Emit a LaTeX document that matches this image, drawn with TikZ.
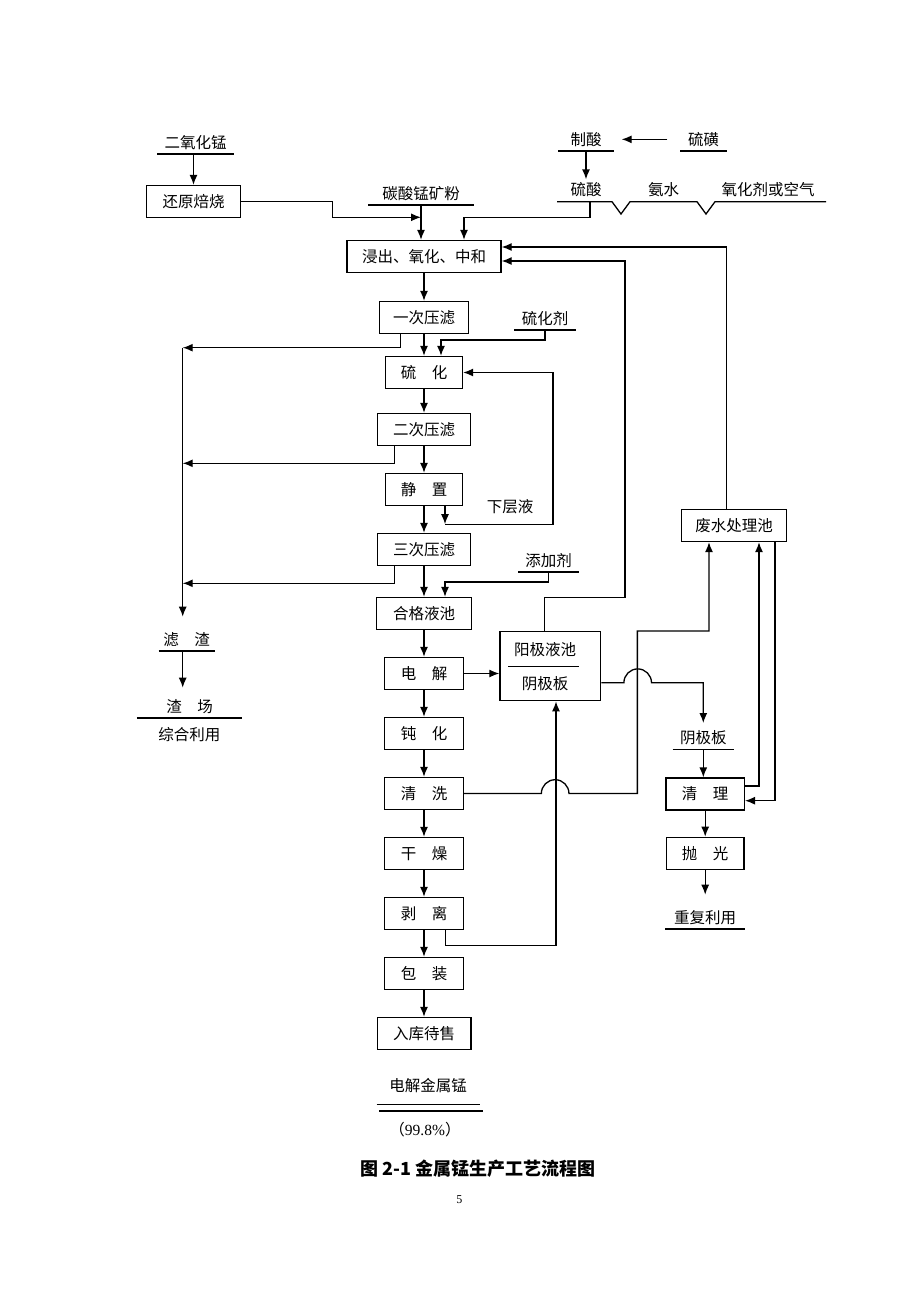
\documentclass[tikz,border=0pt]{standalone}
\usepackage{fontspec}
\setmainfont{Liberation Serif}
\newfontfamily\cjk{Noto Sans CJK SC}
\usetikzlibrary{arrows.meta,positioning}

\begin{document}
\begin{tikzpicture}[x=1pt,y=-1pt,line width=1.3pt,>={Latex[length=10pt,width=8pt]},
        node distance=60pt,on grid,
        every node/.style={font=\fontsize{15.5}{18}\selectfont\cjk,text height=12.5pt,text depth=0.7pt,inner sep=0pt},
        proc/.style={draw,minimum height=32pt,minimum width=#1}, proc/.default=78.5pt,
        lbl/.style={anchor=south,minimum width=#1,inner ysep=4.4pt}]
        \useasboundingbox (0,0) rectangle (920,1302);

        % main column
        \node[proc=154pt]  (jc)   at (424,256.5)       {浸出、氧化、中和};
        \node[proc=88.6pt] (yc)   [below=61pt of jc]   {一次压滤};
        \node[proc=77pt]   (lhua) [below=55pt of yc]   {硫\quad 化};
        \node[proc=93.6pt] (ec)   [below=57pt of lhua] {二次压滤};
        \node[proc=77pt]   (jz)   [below=of ec]        {静\quad 置};
        \node[proc=93.6pt] (sc)   [below=of jz]        {三次压滤};
        \node[proc=95pt]   (hg)   [below=64pt of sc]   {合格液池};
        \node[proc]        (dj)   [below=of hg]        {电\quad 解};
        \node[proc]        (dh)   [below=of dj]        {钝\quad 化};
        \node[proc]        (qx)   [below=of dh]        {清\quad 洗};
        \node[proc]        (gz)   [below=of qx]        {干\quad 燥};
        \node[proc]        (bl)   [below=of gz]        {剥\quad 离};
        \node[proc]        (bz)   [below=of bl]        {包\quad 装};
        \node[proc=93.7pt] (rk)   [below=of bz]        {入库待售};

        % side boxes
        \node[proc=94pt]  (hyb) at (193.5,201.5) {还原焙烧};
        \node[proc=105pt] (fs)  at (734.2,525.5) {废水处理池};
        \node[proc=100.7pt,minimum height=69pt] (yj) at (550.3,666.2) {};
        \node (yj1) at (545,650) {阳极液池};
        \node (yj2) at (545,684) {阴极板};
        \node[proc=78.3pt] (ql)  at (705.2,794)        {清\quad 理};
        \node[proc=77.3pt] (pgu) [below=59.3pt of ql]  {抛\quad 光};

        % labels
        \node[lbl=75pt]  (mno)  at (195.5,154) {二氧化锰};
        \node[lbl=104pt] (tsm)  at (421,205)   {碳酸锰矿粉};
        \node[lbl=54pt]  (zs)   at (586,151)   {制酸};
        \node[lbl=45pt]  (lh)   at (703.5,151) {硫磺};
        \node[lbl=60pt]  (lhj)  at (545,330)   {硫化剂};
        \node[lbl=59pt]  (tjj)  at (548.5,572) {添加剂};
        \node[lbl=55pt]  (lz)   at (186.7,651) {滤\quad 渣};
        \node[lbl=104pt] (zc)   at (189.5,718) {渣\quad 场};
        \node[lbl=60pt]  (yjb)  at (703.3,749.3) {阴极板};
        \node[lbl=78pt]  (cfly) at (705,929)   {重复利用};
        \node (zhly) at (189.3,735) {综合利用};
        \node (ls)   at (586,190)   {硫酸};
        \node (as)   at (663.5,190) {氨水};
        \node (yhj)  at (768,190)   {氧化剂或空气};
        \node (xcy)  at (510,507)   {下层液};
        \node (djm)  at (428,1086)  {电解金属锰};
        \node (pct)  at (425,1130)  {（{\rmfamily 99.8\%}）};
        \node[font=\fontsize{18}{22}\selectfont\cjk\bfseries] (cap) at (478,1170) {图 2-1 金属锰生产工艺流程图};
        \node[font=\fontsize{12}{14}\selectfont\rmfamily] (ym) at (459.3,1198) {5};

        \foreach \n in {mno,tsm,zs,lh,lhj,tjj,lz,zc,yjb,cfly}
                \draw (\n.south west) -- (\n.south east);
        \draw (376.7,1104.3) -- (480,1104.3) (379.3,1111) -- (482.7,1111);
        \draw (557,201.7) -- (612,201.7) -- (621,214) -- (630,201.7) -- (697,201.7)
                -- (706,214) -- (715,201.7) -- (826,201.7);

        \coordinate (ab) at (590,201.7);
        \coordinate (k1) at (182.7,347.7);
        \coordinate (k2) at (182.7,463.3);
        \coordinate (k3) at (182.7,583.3);
        \coordinate (xc) at ([xshift=21pt,yshift=-18pt]jz.south);

        % top inputs
        \draw[->] (mno.south -| hyb) -- (hyb.north);
        \draw[->] (hyb.east) -- ++(91.3,0) |- ([yshift=-12.3pt]tsm.south);
        \draw[->] (tsm.south) -- (tsm.south |- jc.north);
        \draw[->,shorten <=13pt,shorten >=8pt] (lh.west) -- (zs.east);
        \draw[->] (zs.south) -- ([yshift=3.4pt]ls.north);
        \draw[->] (ab) -- ++(0,15.6) -| ([xshift=40pt]jc.north);

        % main column
        \foreach \a/\b in {jc/yc,yc/lhua,lhua/ec,ec/jz,jz/sc,sc/hg,hg/dj,dj/dh,dh/qx,qx/gz,gz/bl,bl/bz,bz/rk}
                \draw[->] (\a) -- (\b);
        \draw[->] (lhj.south) -- ++(0,10) -| ([xshift=17pt]lhua.north);
        \draw[->] (tjj.south) -- ++(0,10) -| ([xshift=21pt]hg.north);
        \draw[->] ([xshift=21pt]jz.south) -- (xc);
        \draw[->] (xc) -- ++(108,0) |- (lhua.east);

        % filter residue
        \draw[->] ([xshift=-23.3pt]yc.south) |- (k1);
        \draw[->] ([xshift=-29.3pt]ec.south) |- (k2);
        \draw[->] ([xshift=-29.3pt]sc.south) |- (k3);
        \draw[->,shorten >=11pt] (k1) -- (k1 |- lz.north);
        \draw[->,shorten >=7pt] (lz.south -| k1) -- (zc.north -| k1);

        % electrolysis
        \draw[->] (dj.east) -- (dj.east -| yj.west);
        \draw ([xshift=-42.3pt]yj.center) -- ([xshift=28.7pt]yj.center);
        \draw[->] ([xshift=-6pt]yj.north) -- ++(0,-33.4) -| ([xshift=123.3pt,yshift=-4.5pt]jc.east)
                -- ([yshift=-4.5pt]jc.east);
        \draw[->] ([xshift=-7.5pt]fs.north) |- ([yshift=9.5pt]jc.east);
        \draw[->] ([yshift=-16.5pt]yj.east) -- ++(22.6,0) arc[start angle=180,end angle=0,radius=13.8pt]
                -| ([yshift=3pt]yjb.north);
        \draw[->] (qx.east) -- ++(77.45,0) arc[start angle=180,end angle=0,radius=13.8pt]
                -- ++(68.4,0) -- ++(0,-162.5) -| ([xshift=-25.2pt]fs.south);
        \draw[->] ([xshift=21.7pt]bl.south) -- ++(0,15.5) -| ([xshift=5.7pt]yj.south);

        % cathode plates
        \draw[->] (yjb.south) -- (yjb.south |- ql.north);
        \draw[->] ([yshift=8pt]ql.east) -| ([xshift=24.8pt]fs.south);
        \draw[->] ([xshift=40.8pt]fs.south) |- ([yshift=-6.7pt]ql.east);
        \draw[->] (ql) -- (pgu);
        \draw[->,shorten >=11pt] (pgu.south) -- (pgu.south |- cfly.north);
\end{tikzpicture}
\end{document}
